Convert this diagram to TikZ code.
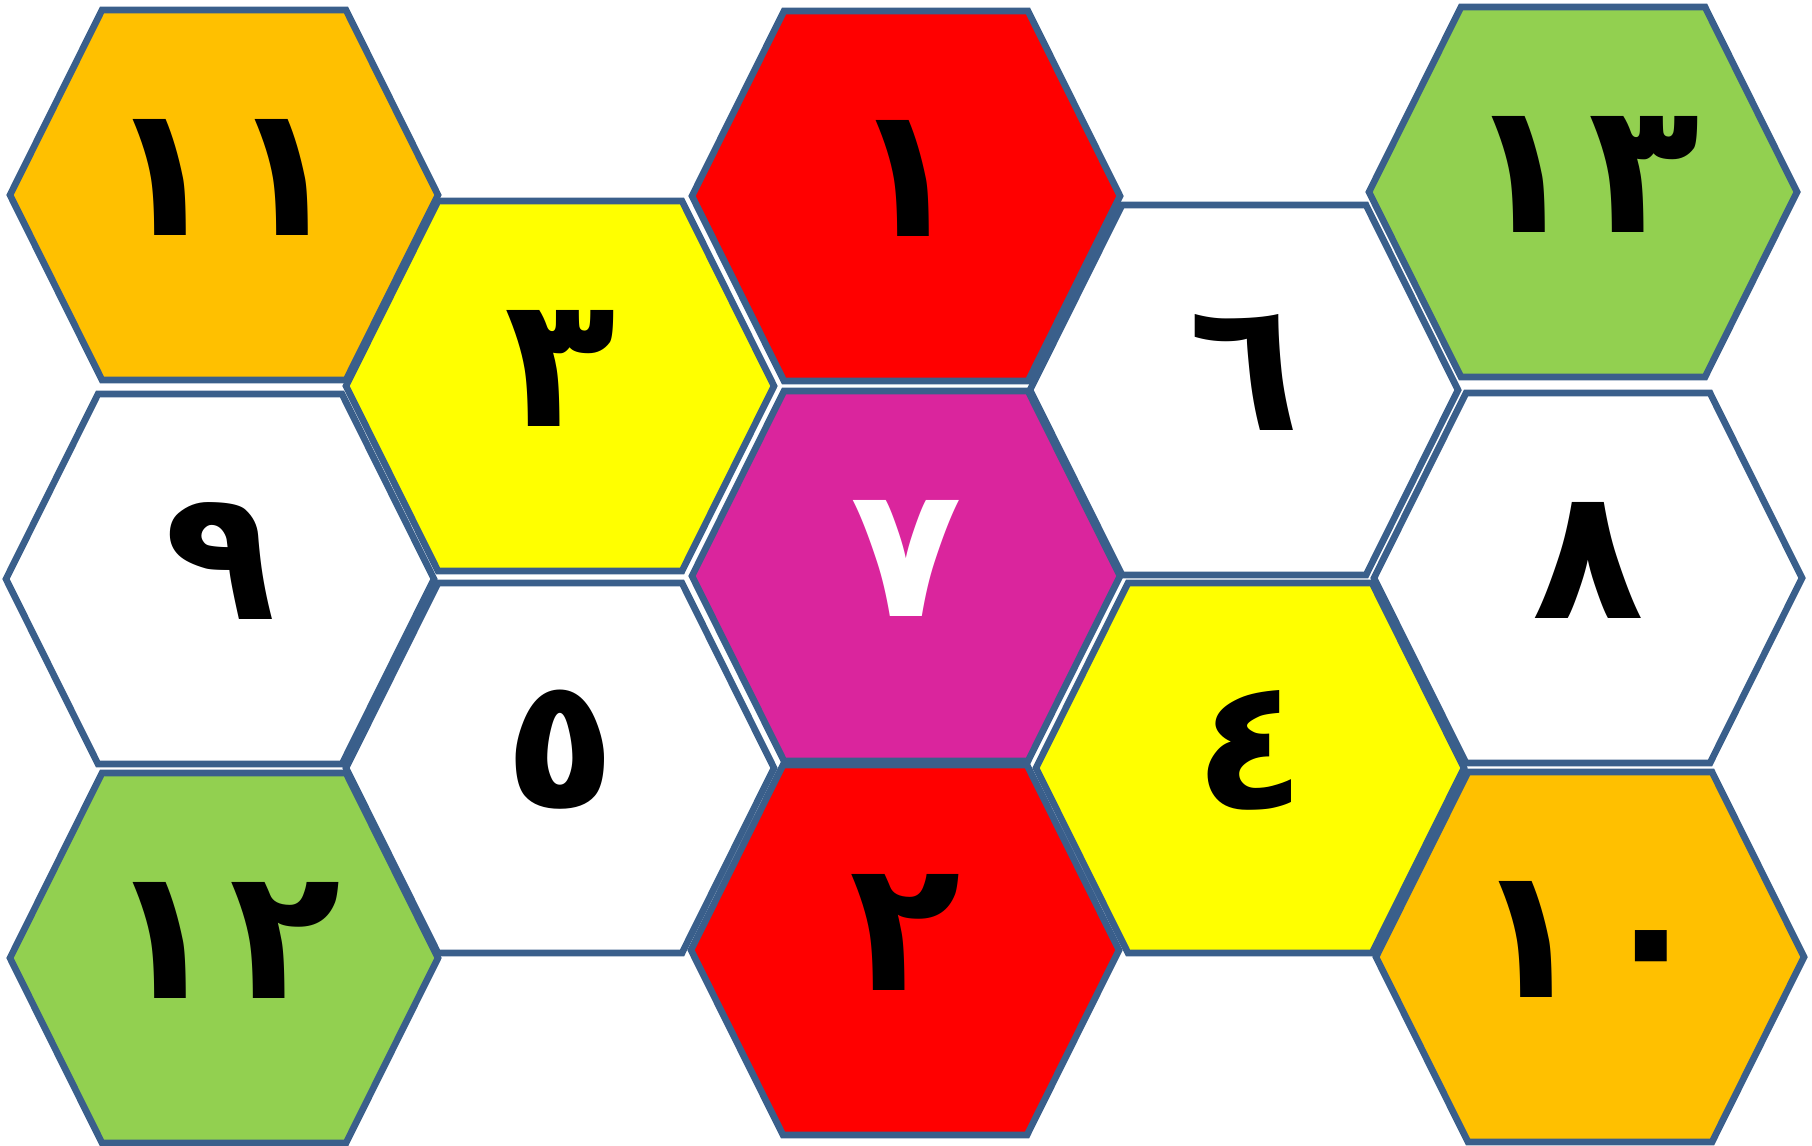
\documentclass[tikz,border=0pt]{standalone}
\usepackage{fontspec}
\newfontfamily\arabicfont[Script=Arabic]{DejaVu Sans}
\definecolor{hexline}{RGB}{58,95,139}
\definecolor{hexorange}{RGB}{255,192,0}
\definecolor{hexyellow}{RGB}{255,255,0}
\definecolor{hexred}{RGB}{255,0,0}
\definecolor{hexgreen}{RGB}{146,208,80}
\definecolor{hexmagenta}{RGB}{218,37,157}
\newcommand{\hexcell}[6]{%
  \begin{scope}[shift={(#2,#3)}]
    \filldraw[hexshape, fill=#4] (-214,0) -- (-122,-185) -- (122,-185) -- (214,0) -- (122,185) -- (-122,185) -- cycle;
  \end{scope}
  \node[digit, text=#6] (#1) at (#2,#3-18) {#5};}
\begin{document}
\begin{tikzpicture}[x=0.01cm,y=-0.01cm,
  hexshape/.style={draw=hexline, line width=1.9pt, line join=miter},
  digit/.style={font=\arabicfont\bfseries\fontsize{52}{52}\selectfont, inner sep=0pt}]
\useasboundingbox (0,0) rectangle (1812,1145);
\fill[white] (0,0) rectangle (1812,1145);
% column 1
\hexcell{h11}{224}{195}{hexorange}{١\hspace{3pt}١}{black}
\hexcell{h9}{220}{579}{white}{٩}{black}
\hexcell{h12}{224}{958}{hexgreen}{١\hspace{3pt}٢}{black}
% column 2
\hexcell{h3}{560}{386}{hexyellow}{٣}{black}
\hexcell{h5}{560}{768}{white}{٥}{black}
% column 3
\hexcell{h1}{906}{196}{hexred}{١}{black}
\hexcell{h7}{906}{576}{hexmagenta}{٧}{white}
\hexcell{h2}{905}{950}{hexred}{٢}{black}
% column 4
\hexcell{h6}{1244}{390}{white}{٦}{black}
\hexcell{h4}{1250}{768}{hexyellow}{٤}{black}
% column 5
\hexcell{h13}{1583}{192}{hexgreen}{١\hspace{3pt}٣}{black}
\hexcell{h8}{1588}{578}{white}{٨}{black}
\hexcell{h10}{1590}{957}{hexorange}{١\hspace{3pt}٠}{black}
\end{tikzpicture}
\end{document}
